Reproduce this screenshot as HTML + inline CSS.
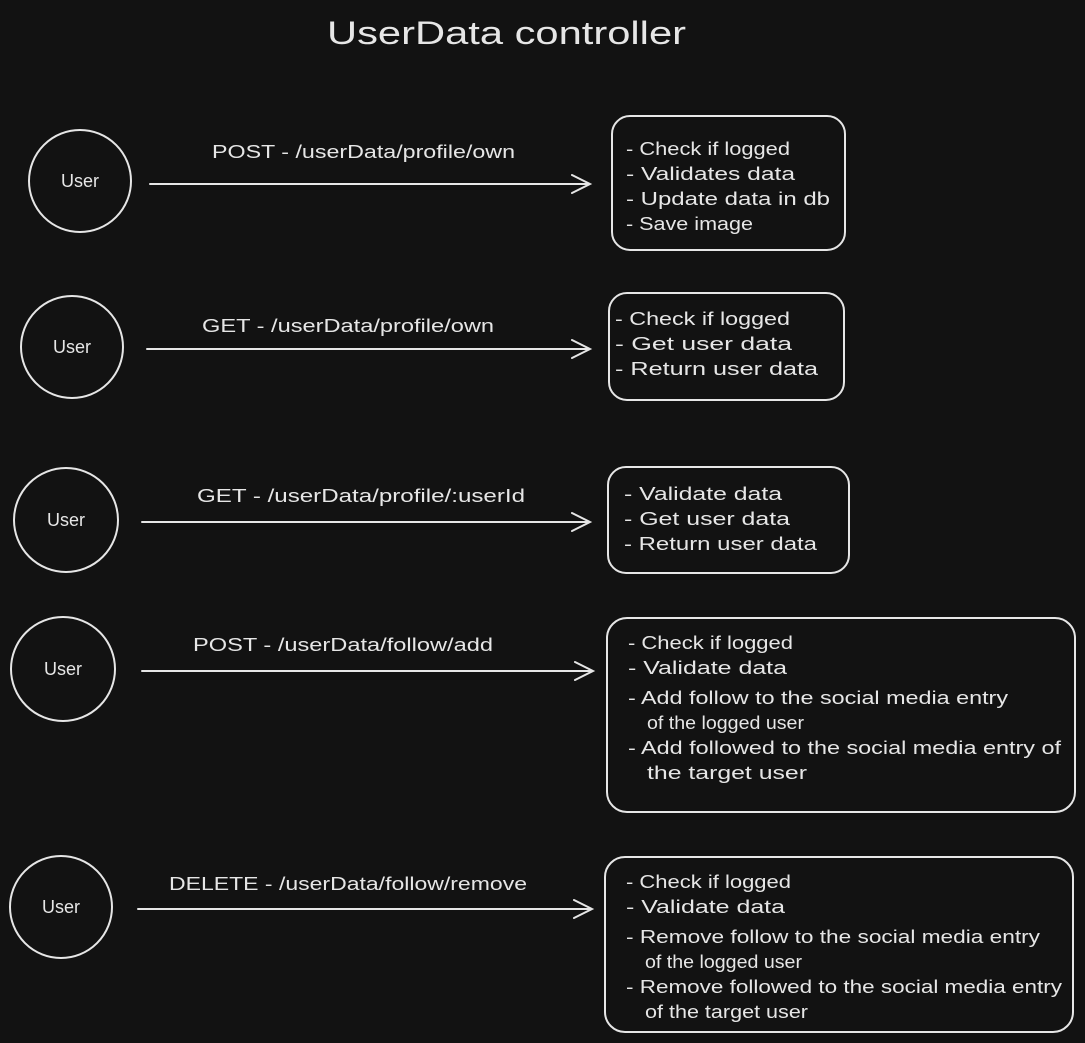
<!DOCTYPE html>
<html><head><meta charset="utf-8"><style>
html,body{margin:0;padding:0;background:#121212;}
svg{display:block}
text{font-family:"Liberation Sans",sans-serif;fill:#e6e6e6;font-size:18px}
</style></head><body>
<svg width="1085" height="1043" viewBox="0 0 1085 1043" xmlns="http://www.w3.org/2000/svg">
<rect width="1085" height="1043" fill="#121212"/>
<g stroke="#e6e6e6" stroke-width="2" fill="none" stroke-linecap="round">
<circle cx="80" cy="181" r="51"/>
<circle cx="72" cy="347" r="51"/>
<circle cx="66" cy="520" r="52"/>
<circle cx="63" cy="669" r="52"/>
<circle cx="61" cy="907" r="51"/>
<path d="M150 184 L590 184 M572 175 L590 184 L572 193"/>
<path d="M147 349 L590 349 M572 340 L590 349 L572 358"/>
<path d="M142 522 L590 522 M572 513 L590 522 L572 531"/>
<path d="M142 671 L593 671 M575 662 L593 671 L575 680"/>
<path d="M138 909 L592 909 M574 900 L592 909 L574 918"/>
<rect x="612" y="116" width="233" height="134" rx="18"/>
<rect x="609" y="293" width="235" height="107" rx="18"/>
<rect x="608" y="467" width="241" height="106" rx="18"/>
<rect x="607" y="618" width="468" height="194" rx="20"/>
<rect x="605" y="857" width="468" height="175" rx="20"/>
</g>
<text x="327" y="44" font-size="32" textLength="359" lengthAdjust="spacingAndGlyphs" style="font-size:32px">UserData controller</text>
<g text-anchor="middle">
<text x="80" y="187">User</text>
<text x="72" y="353">User</text>
<text x="66" y="526">User</text>
<text x="63" y="675">User</text>
<text x="61" y="913">User</text>
</g>
<g lengthAdjust="spacingAndGlyphs">
<text x="212" y="158" textLength="303" lengthAdjust="spacingAndGlyphs">POST - /userData/profile/own</text>
<text x="202" y="332" textLength="292" lengthAdjust="spacingAndGlyphs">GET - /userData/profile/own</text>
<text x="197" y="502" textLength="328" lengthAdjust="spacingAndGlyphs">GET - /userData/profile/:userId</text>
<text x="193" y="651" textLength="300" lengthAdjust="spacingAndGlyphs">POST - /userData/follow/add</text>
<text x="169" y="890" textLength="358" lengthAdjust="spacingAndGlyphs">DELETE - /userData/follow/remove</text>

<text x="626" y="155" textLength="164" lengthAdjust="spacingAndGlyphs">- Check if logged</text>
<text x="626" y="180" textLength="169" lengthAdjust="spacingAndGlyphs">- Validates data</text>
<text x="626" y="205" textLength="204" lengthAdjust="spacingAndGlyphs">- Update data in db</text>
<text x="626" y="230" textLength="127" lengthAdjust="spacingAndGlyphs">- Save image</text>

<text x="615" y="325" textLength="175" lengthAdjust="spacingAndGlyphs">- Check if logged</text>
<text x="615" y="350" textLength="177" lengthAdjust="spacingAndGlyphs">- Get user data</text>
<text x="615" y="375" textLength="203" lengthAdjust="spacingAndGlyphs">- Return user data</text>

<text x="624" y="500" textLength="158" lengthAdjust="spacingAndGlyphs">- Validate data</text>
<text x="624" y="525" textLength="166" lengthAdjust="spacingAndGlyphs">- Get user data</text>
<text x="624" y="550" textLength="193" lengthAdjust="spacingAndGlyphs">- Return user data</text>

<text x="628" y="649" textLength="165" lengthAdjust="spacingAndGlyphs">- Check if logged</text>
<text x="628" y="674" textLength="159" lengthAdjust="spacingAndGlyphs">- Validate data</text>
<text x="628" y="704" textLength="380" lengthAdjust="spacingAndGlyphs">- Add follow to the social media entry</text>
<text x="647" y="729" textLength="157" lengthAdjust="spacingAndGlyphs">of the logged user</text>
<text x="628" y="754" textLength="433" lengthAdjust="spacingAndGlyphs">- Add followed to the social media entry of</text>
<text x="647" y="779" textLength="160" lengthAdjust="spacingAndGlyphs">the target user</text>

<text x="626" y="888" textLength="165" lengthAdjust="spacingAndGlyphs">- Check if logged</text>
<text x="626" y="913" textLength="159" lengthAdjust="spacingAndGlyphs">- Validate data</text>
<text x="626" y="943" textLength="414" lengthAdjust="spacingAndGlyphs">- Remove follow to the social media entry</text>
<text x="645" y="968" textLength="157" lengthAdjust="spacingAndGlyphs">of the logged user</text>
<text x="626" y="993" textLength="436" lengthAdjust="spacingAndGlyphs">- Remove followed to the social media entry</text>
<text x="645" y="1018" textLength="163" lengthAdjust="spacingAndGlyphs">of the target user</text>
</g>
</svg>
</body></html>
